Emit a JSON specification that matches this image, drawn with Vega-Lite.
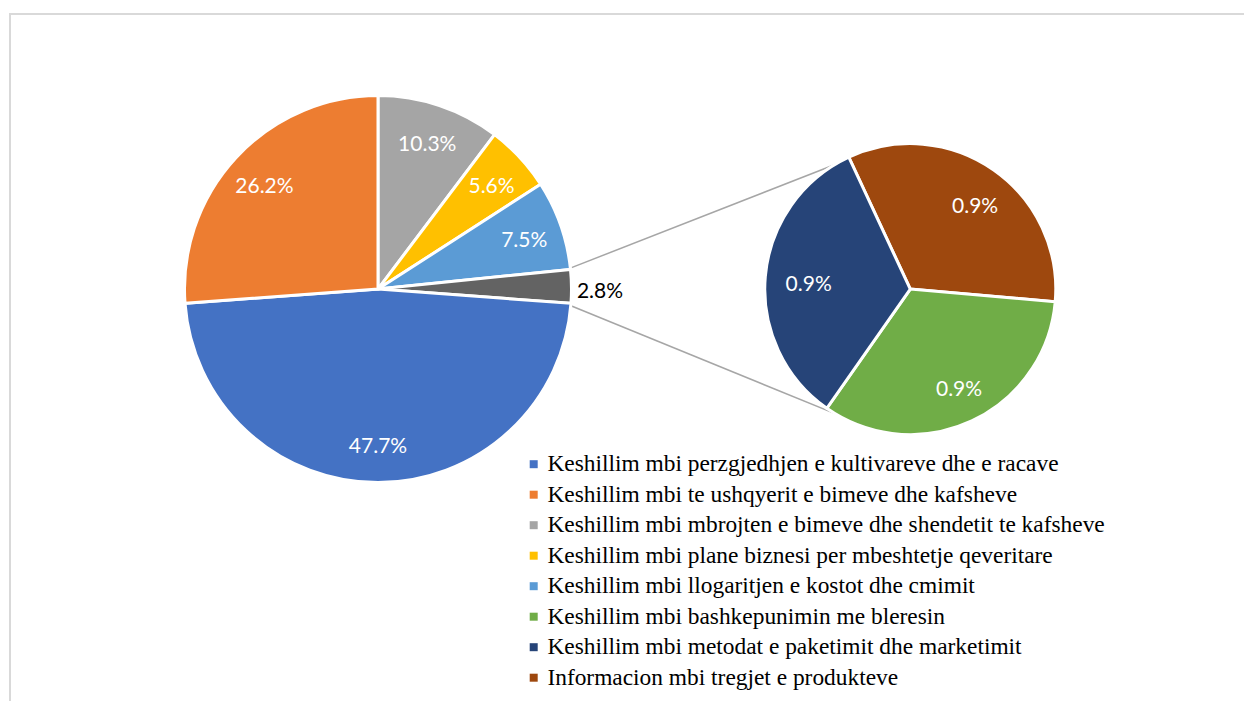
{
  "$schema": "https://vega.github.io/schema/vega-lite/v6.json",
  "width": 1245,
  "height": 702,
  "autosize": {"type": "fit", "contains": "padding"},
  "padding": 0,
  "background": "white",
  "config": {"view": {"stroke": null}},
  "datasets": {
    "main": [
      {"cat": "Keshillim mbi mbrojten e bimeve dhe shendetit te kafsheve", "v": 0.103, "o": 1},
      {"cat": "Keshillim mbi plane biznesi per mbeshtetje qeveritare", "v": 0.056, "o": 2},
      {"cat": "Keshillim mbi llogaritjen e kostot dhe cmimit", "v": 0.075, "o": 3},
      {"cat": "Te tjera", "v": 0.028, "o": 4},
      {"cat": "Keshillim mbi perzgjedhjen e kultivareve dhe e racave", "v": 0.477, "o": 5},
      {"cat": "Keshillim mbi  te ushqyerit e bimeve dhe kafsheve", "v": 0.262, "o": 6}
    ],
    "sub": [
      {"cat": "Informacion mbi tregjet e produkteve", "v": 0.009, "o": 1},
      {"cat": "Keshillim mbi bashkepunimin me bleresin", "v": 0.009, "o": 2},
      {"cat": "Keshillim mbi metodat e paketimit dhe marketimit", "v": 0.009, "o": 3}
    ],
    "one": [{"k": 1}]
  },
  "resolve": {"scale": {"theta": "independent"}},
  "layer": [
    {
      "data": {"name": "one"},
      "mark": {"type": "rule", "color": "#D9D9D9", "strokeWidth": 2},
      "encoding": {
        "x": {"datum": 9, "type": "quantitative", "scale": {"domain": [0, 1245], "nice": false, "zero": false}, "axis": null},
        "x2": {"datum": 1245},
        "y": {"datum": 14, "type": "quantitative", "scale": {"domain": [0, 702], "nice": false, "zero": false, "reverse": true}, "axis": null}
      }
    },
    {
      "data": {"name": "one"},
      "mark": {"type": "rule", "color": "#D9D9D9", "strokeWidth": 2},
      "encoding": {
        "x": {"datum": 10, "type": "quantitative"},
        "y": {"datum": 13, "type": "quantitative"},
        "y2": {"datum": 702}
      }
    },
    {
      "data": {"name": "one"},
      "mark": {"type": "rule", "color": "#A6A6A6", "strokeWidth": 1.5},
      "encoding": {
        "x": {"datum": 572, "type": "quantitative"},
        "y": {"datum": 268, "type": "quantitative"},
        "x2": {"datum": 848},
        "y2": {"datum": 160}
      }
    },
    {
      "data": {"name": "one"},
      "mark": {"type": "rule", "color": "#A6A6A6", "strokeWidth": 1.5},
      "encoding": {
        "x": {"datum": 572, "type": "quantitative"},
        "y": {"datum": 306.5, "type": "quantitative"},
        "x2": {"datum": 840},
        "y2": {"datum": 416}
      }
    },
    {
      "data": {"name": "main"},
      "mark": {"type": "arc", "radius": 193.5, "stroke": "white", "strokeWidth": 3},
      "encoding": {
        "x": {"datum": 378.3, "type": "quantitative"},
        "y": {"datum": 289.5, "type": "quantitative"},
        "theta": {"field": "v", "type": "quantitative", "stack": true},
        "order": {"field": "o", "type": "quantitative"},
        "color": {
          "field": "cat",
          "type": "nominal",
          "scale": {
            "domain": [
              "Keshillim mbi perzgjedhjen e kultivareve dhe e racave",
              "Keshillim mbi  te ushqyerit e bimeve dhe kafsheve",
              "Keshillim mbi mbrojten e bimeve dhe shendetit te kafsheve",
              "Keshillim mbi plane biznesi per mbeshtetje qeveritare",
              "Keshillim mbi llogaritjen e kostot dhe cmimit",
              "Keshillim mbi bashkepunimin me bleresin",
              "Keshillim mbi metodat e paketimit dhe marketimit",
              "Informacion mbi tregjet e produkteve",
              "Te tjera"
            ],
            "range": ["#4472C4", "#ED7D31", "#A5A5A5", "#FFC000", "#5B9BD5", "#70AD47", "#264478", "#9E480E", "#636363"]
          },
          "legend": {
            "values": [
              "Keshillim mbi perzgjedhjen e kultivareve dhe e racave",
              "Keshillim mbi  te ushqyerit e bimeve dhe kafsheve",
              "Keshillim mbi mbrojten e bimeve dhe shendetit te kafsheve",
              "Keshillim mbi plane biznesi per mbeshtetje qeveritare",
              "Keshillim mbi llogaritjen e kostot dhe cmimit",
              "Keshillim mbi bashkepunimin me bleresin",
              "Keshillim mbi metodat e paketimit dhe marketimit",
              "Informacion mbi tregjet e produkteve"
            ],
            "title": null,
            "orient": "none",
            "legendX": 522,
            "legendY": 452.5,
            "padding": 0,
            "symbolType": "square",
            "symbolSize": 64,
            "symbolStrokeWidth": 0,
            "symbolOpacity": 1,
            "labelFont": "Liberation Serif",
            "labelFontSize": 23.4,
            "labelColor": "#000000",
            "labelLimit": 1000,
            "labelOffset": 2,
            "rowPadding": 5.5
          }
        }
      }
    },
    {
      "data": {"name": "main"},
      "mark": {"type": "text", "radius": 155, "dy": 3, "color": "white", "font": "Lato", "fontSize": 21, "align": "center", "baseline": "middle"},
      "encoding": {
        "x": {"datum": 378.3, "type": "quantitative"},
        "y": {"datum": 289.5, "type": "quantitative"},
        "theta": {"field": "v", "type": "quantitative", "stack": true},
        "order": {"field": "o", "type": "quantitative"},
        "text": {"condition": {"test": "datum.cat === 'Te tjera'", "value": ""}, "field": "v", "type": "quantitative", "format": ".1%"}
      }
    },
    {
      "data": {"name": "main"},
      "mark": {"type": "text", "radius": 222, "dy": 6, "color": "#000000", "font": "Lato", "fontSize": 21, "align": "center", "baseline": "middle"},
      "encoding": {
        "x": {"datum": 378.3, "type": "quantitative"},
        "y": {"datum": 289.5, "type": "quantitative"},
        "theta": {"field": "v", "type": "quantitative", "stack": true},
        "order": {"field": "o", "type": "quantitative"},
        "text": {"condition": {"test": "datum.cat !== 'Te tjera'", "value": ""}, "field": "v", "type": "quantitative", "format": ".1%"}
      }
    },
    {
      "data": {"name": "sub"},
      "mark": {"type": "arc", "radius": 145.5, "stroke": "white", "strokeWidth": 3},
      "encoding": {
        "x": {"datum": 911, "type": "quantitative"},
        "y": {"datum": 289.5, "type": "quantitative"},
        "theta": {"field": "v", "type": "quantitative", "stack": true, "scale": {"range": [-0.4363, 5.8469]}},
        "order": {"field": "o", "type": "quantitative"},
        "color": {"field": "cat", "type": "nominal"}
      }
    },
    {
      "data": {"name": "sub"},
      "mark": {"type": "text", "radius": 106, "dx": 4, "dy": 5, "color": "white", "font": "Lato", "fontSize": 21, "align": "center", "baseline": "middle"},
      "encoding": {
        "x": {"datum": 911, "type": "quantitative"},
        "y": {"datum": 289.5, "type": "quantitative"},
        "theta": {"field": "v", "type": "quantitative", "stack": true, "scale": {"range": [-0.4363, 5.8469]}},
        "order": {"field": "o", "type": "quantitative"},
        "text": {"field": "v", "type": "quantitative", "format": ".1%"}
      }
    }
  ]
}
